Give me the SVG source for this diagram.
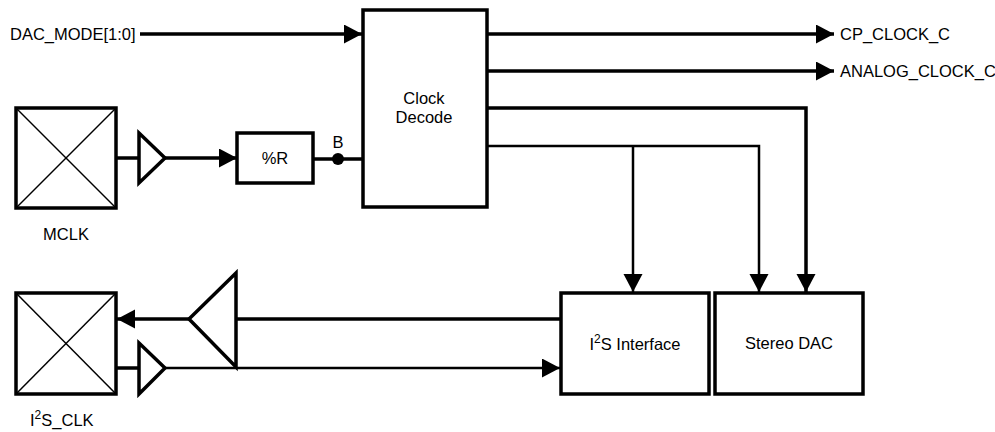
<svg xmlns="http://www.w3.org/2000/svg" width="995" height="432" viewBox="0 0 995 432">
<defs>
<marker id="ah" markerUnits="userSpaceOnUse" markerWidth="20" markerHeight="20" refX="18" refY="9.5" orient="auto">
<path d="M0,0 L18,9.5 L0,19 z" fill="#000"/>
</marker>
<style>
.box{fill:#fff;stroke:#000;stroke-width:3.5;stroke-linejoin:miter}
.x{stroke:#000;stroke-width:1.5}
.ln{fill:none;stroke:#000;stroke-width:3.5}
.thin{fill:none;stroke:#000;stroke-width:2.5}
.tri{fill:#fff;stroke:#000;stroke-width:3.5;stroke-linejoin:miter}
text{font-family:"Liberation Sans",Arial,sans-serif;font-size:16.5px;fill:#000}
.c{text-anchor:middle}
</style>
</defs>
<rect width="995" height="432" fill="#fff"/>
<g id="connectors">
<line class="ln" x1="140" y1="34" x2="362" y2="34" marker-end="url(#ah)"/>
<line class="ln" x1="487" y1="34" x2="834" y2="34" marker-end="url(#ah)"/>
<line class="ln" x1="487" y1="71" x2="834" y2="71" marker-end="url(#ah)"/>
<polyline class="ln" points="487,108 806,108 806,292" marker-end="url(#ah)"/>
<polyline class="thin" points="487,146 759,146 759,292" marker-end="url(#ah)"/>
<line class="thin" x1="633" y1="146" x2="633" y2="292" marker-end="url(#ah)"/>
<line class="ln" x1="116" y1="158" x2="139" y2="158"/>
<line class="ln" x1="165" y1="158" x2="237" y2="158" marker-end="url(#ah)"/>
<line class="ln" x1="313" y1="159" x2="363" y2="159"/>
<circle cx="338" cy="159" r="6" fill="#000"/>
<line class="ln" x1="560" y1="319" x2="236" y2="319"/>
<line class="ln" x1="189" y1="319" x2="117" y2="319" marker-end="url(#ah)"/>
<line class="ln" x1="116" y1="368" x2="139" y2="368"/>
<line class="thin" x1="165" y1="368" x2="560" y2="368" marker-end="url(#ah)"/>
</g>
<g id="dac_mode"><text x="10" y="40">DAC_MODE[1:0]</text></g>
<g id="clock_decode">
<rect class="box" x="363" y="10" width="124" height="197"/>
<text class="c" x="424" y="104">Clock</text>
<text class="c" x="424" y="123">Decode</text>
</g>
<g id="cp_clock"><text x="840" y="40">CP_CLOCK_C</text></g>
<g id="analog_clock"><text x="840" y="77">ANALOG_CLOCK_C</text></g>
<g id="mclk">
<rect class="box" x="16" y="108" width="100" height="100"/>
<line class="x" x1="16" y1="108" x2="116" y2="208"/>
<line class="x" x1="116" y1="108" x2="16" y2="208"/>
<text class="c" x="66" y="240">MCLK</text>
</g>
<g id="buf1"><polygon class="tri" points="139,133 165,158 139,183"/></g>
<g id="divr">
<rect class="box" x="237" y="133" width="76" height="50"/>
<text class="c" x="275" y="164">%R</text>
</g>
<g id="b_label"><text class="c" x="338" y="148">B</text></g>
<g id="i2s_clk">
<rect class="box" x="16" y="293" width="100" height="101"/>
<line class="x" x1="16" y1="293" x2="116" y2="394"/>
<line class="x" x1="116" y1="293" x2="16" y2="394"/>
<text x="30" y="426">I<tspan dy="-7" font-size="12">2</tspan><tspan dy="7">S_CLK</tspan></text>
</g>
<g id="buf_out"><polygon class="tri" points="236,273 189,319 236,367"/></g>
<g id="buf_in"><polygon class="tri" points="139,343 165,368 139,394"/></g>
<g id="i2s_interface">
<rect class="box" x="561" y="293" width="148" height="101"/>
<text class="c" x="635" y="350">I<tspan dy="-7" font-size="12">2</tspan><tspan dy="7">S Interface</tspan></text>
</g>
<g id="stereo_dac">
<rect class="box" x="715" y="293" width="148" height="101"/>
<text class="c" x="789" y="349">Stereo DAC</text>
</g>
</svg>
